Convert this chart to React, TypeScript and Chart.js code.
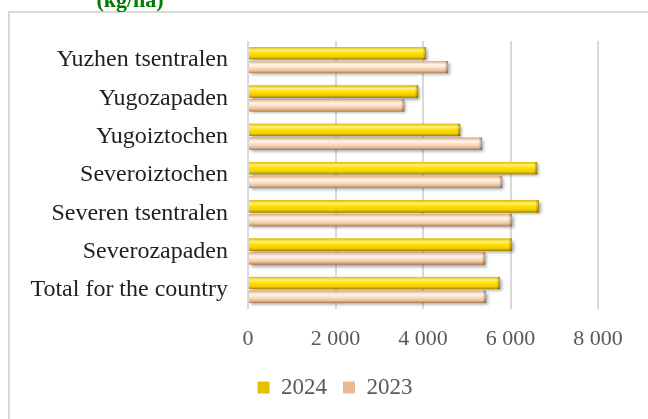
import React, { useEffect, useRef } from "react";
import { Chart, registerables } from "chart.js";

Chart.register(...registerables);

const categories = [
  "Yuzhen tsentralen",
  "Yugozapaden",
  "Yugoiztochen",
  "Severoiztochen",
  "Severen tsentralen",
  "Severozapaden",
  "Total for the country",
];
const values2024 = [4070, 3890, 4850, 6610, 6650, 6030, 5760];
const values2023 = [4570, 3570, 5350, 5810, 6030, 5420, 5440];
const seriesLabels = ["2024", "2023"];
const xTicks = [0, 2000, 4000, 6000, 8000];
const titleText = "(kg/ha)";

const FONT = "'Liberation Serif', 'Times New Roman', serif";

const GRADIENTS: [number, string][][] = [
  [
    [0, "#E2B800"],
    [0.25, "#FFF07A"],
    [0.5, "#FFE000"],
    [0.8, "#F2CC00"],
    [1, "#A88400"],
  ],
  [
    [0, "#DDAA84"],
    [0.3, "#FFF4E8"],
    [0.55, "#FBE0C6"],
    [0.8, "#EBBF98"],
    [1, "#B0805A"],
  ],
];
const BASE_COLORS = ["#E8C000", "#E8B994"];

const decorPlugin = {
  id: "decor",
  afterUpdate(chart: any) {
    const lg = chart.legend;
    if (lg) {
      lg.left += 36;
      lg.right += 36;
    }
  },
  beforeDraw(chart: any) {
    const ctx = chart.ctx;
    ctx.save();
    ctx.fillStyle = "#ffffff";
    ctx.fillRect(0, 0, chart.width, chart.height);
    ctx.strokeStyle = "#d9d9d9";
    ctx.lineWidth = 2;
    ctx.strokeRect(9, 12, chart.width + 20, chart.height + 20);
    ctx.fillStyle = "#007a00";
    ctx.font = `bold 22px ${FONT}`;
    ctx.textAlign = "center";
    ctx.textBaseline = "alphabetic";
    ctx.fillText(titleText, 130, 7);
    ctx.restore();
  },
  afterDatasetsDraw(chart: any) {
    const ctx = chart.ctx;
    chart.data.datasets.forEach((_ds: any, i: number) => {
      const meta = chart.getDatasetMeta(i);
      if (meta.hidden) return;
      const stops = GRADIENTS[i];
      meta.data.forEach((el: any) => {
        const { x, y, base, height } = el.getProps(["x", "y", "base", "height"], true);
        const left = Math.min(x, base);
        const w = Math.abs(x - base);
        const top = y - height / 2;
        ctx.save();
        ctx.shadowColor = "rgba(0,0,0,0.35)";
        ctx.shadowBlur = 3;
        ctx.shadowOffsetX = 2;
        ctx.shadowOffsetY = 2;
        const g = ctx.createLinearGradient(0, top, 0, top + height);
        stops.forEach(([o, c]) => g.addColorStop(o, c));
        ctx.fillStyle = g;
        ctx.fillRect(left, top, w, height);
        ctx.restore();
        ctx.save();
        const eg = ctx.createLinearGradient(left + w - 3, 0, left + w, 0);
        eg.addColorStop(0, "rgba(0,0,0,0.05)");
        eg.addColorStop(1, "rgba(0,0,0,0.35)");
        ctx.fillStyle = eg;
        ctx.fillRect(left + w - 3, top, 3, height);
        ctx.restore();
      });
    });
  },
};

function formatTick(v: number) {
  return String(v).replace(/\B(?=(\d{3})+(?!\d))/g, " ");
}

export default function App() {
  const ref = useRef<HTMLCanvasElement>(null);
  useEffect(() => {
    if (!ref.current) return;
    const chart = new Chart(ref.current, {
      type: "bar",
      data: {
        labels: categories,
        datasets: [
          {
            label: seriesLabels[0],
            data: values2024,
            backgroundColor: BASE_COLORS[0],
            categoryPercentage: 0.72,
            barPercentage: 0.88,
          },
          {
            label: seriesLabels[1],
            data: values2023,
            backgroundColor: BASE_COLORS[1],
            categoryPercentage: 0.72,
            barPercentage: 0.88,
          },
        ],
      },
      options: {
        indexAxis: "y",
        animation: false,
        responsive: false,
        maintainAspectRatio: false,
        layout: { padding: { left: 0, top: 41, right: 50, bottom: 10 } },
        plugins: {
          title: { display: false },
          tooltip: { enabled: false },
          legend: {
            position: "bottom",
            labels: {
              boxWidth: 12,
              boxHeight: 12,
              padding: 16,
              color: "#595959",
              font: { family: FONT, size: 23 },
            },
          },
        },
        scales: {
          x: {
            min: 0,
            max: 8000,
            afterBuildTicks(scale: any) {
              scale.ticks = xTicks.map((v) => ({ value: v }));
            },
            afterFit(scale: any) {
              scale.height = 51;
            },
            ticks: {
              padding: 17,
              color: "#595959",
              font: { family: FONT, size: 22 },
              callback: (v: any) => formatTick(Number(v)),
            },
            grid: { color: "#d9d9d9", lineWidth: 2, drawTicks: false },
            border: { display: false },
          },
          y: {
            afterFit(scale: any) {
              scale.width = 248;
            },
            ticks: {
              padding: 20,
              color: "#1f1f1f",
              font: { family: FONT, size: 24 },
            },
            grid: { display: false, drawTicks: false },
            border: { display: false },
          },
        },
      },
      plugins: [decorPlugin],
    });
    return () => chart.destroy();
  }, []);
  return (
    <div style={{ position: "absolute", left: 0, top: 0, width: 648, height: 419 }}>
      <canvas ref={ref} width={648} height={419} style={{ display: "block" }} />
    </div>
  );
}
